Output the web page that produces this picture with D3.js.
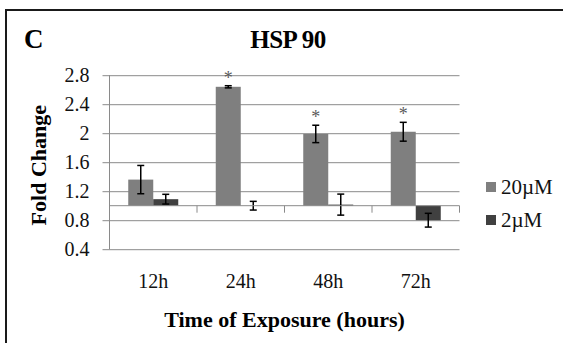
<!DOCTYPE html>
<html>
<head>
<meta charset="utf-8">
<script src="https://cdn.jsdelivr.net/npm/d3@7"></script>
<style>
  body { margin: 0; background: #fff; }
  svg text { font-family: "Liberation Serif", "Times New Roman", serif; }
</style>
</head>
<body>
<svg width="563" height="343"></svg>
<script>
// values
const categories = ["12h", "24h", "48h", "72h"]
const series = ["20µM", "2µM"]
const mean20 = [1.36, 2.64, 1.99, 2.02]
const err20 = [0.195, 0.015, 0.12, 0.13]
const mean2 = [1.09, 1.0, 1.015, 0.80]
const err2 = [0.067, 0.06, 0.145, 0.095]
const starred = [false, true, true, true]
const yTicks = [0.4, 0.8, 1.2, 1.6, 2, 2.4, 2.8]
const colors = ["#7f7f7f", "#404040"]

const svg = d3.select('svg')
const plotL = 109.5, plotR = 459.5, plotT = 75.2, plotB = 249.2

const x0 = d3.scaleBand().domain(categories).range([plotL, plotR])
const x1 = d3.scaleBand().domain(series).range([0, x0.bandwidth()]).paddingOuter(0.75)
const y = d3.scaleLinear().domain([0.4, 2.8]).range([plotB, plotT])
const base = y(1)

// frame (only top and left edges show)
svg.append('path')
    .attr('d', `M6,343 V10 H563`)
    .attr('fill', 'none')
    .attr('stroke', '#1a1a1a')
    .attr('stroke-width', 2)

// gridlines + y axis
const yAxis = d3.axisLeft(y)
    .tickValues(yTicks)
    .tickSize(-(plotR - plotL))
    .tickPadding(0)
    .tickFormat(d3.format('~g'))
const gy = svg.append('g')
    .attr('transform', `translate(${plotL},0)`)
    .call(yAxis)
gy.select('.domain').remove()
gy.selectAll('line')
    .attr('x1', -7)
    .attr('stroke', '#8a8a8a')
gy.selectAll('text')
    .attr('x', -20)
    .attr('dy', '0.32em')
    .attr('font-size', 20)
    .attr('fill', '#111')
svg.append('line')
    .attr('x1', plotL).attr('x2', plotL)
    .attr('y1', plotT).attr('y2', plotB)
    .attr('stroke', '#8a8a8a')

const rows = categories.map((c, i) => ({
    cat: c,
    vals: [
        {s: series[0], v: mean20[i], e: err20[i], star: starred[i]},
        {s: series[1], v: mean2[i], e: err2[i], star: false}
    ]
}))

const groups = svg.append('g').selectAll('g')
    .data(rows).enter()
    .append('g')
    .attr('transform', d => `translate(${x0(d.cat)},0)`)

groups.selectAll('rect')
    .data(d => d.vals).enter()
    .append('rect')
    .attr('x', d => x1(d.s))
    .attr('width', x1.bandwidth())
    .attr('y', d => Math.min(y(d.v), base))
    .attr('height', d => Math.abs(y(d.v) - base))
    .attr('fill', (d, i) => colors[i])

// error bars
const eb = groups.selectAll('.err')
    .data(d => d.vals).enter()
    .append('g')
    .classed('err', true)
    .attr('transform', d => `translate(${x1(d.s) + x1.bandwidth() / 2},0)`)
eb.append('line')
    .attr('y1', d => y(d.v + d.e)).attr('y2', d => y(d.v - d.e))
eb.append('line')
    .attr('x1', -3.5).attr('x2', 3.5)
    .attr('y1', d => y(d.v + d.e)).attr('y2', d => y(d.v + d.e))
eb.append('line')
    .attr('x1', -3.5).attr('x2', 3.5)
    .attr('y1', d => y(d.v - d.e)).attr('y2', d => y(d.v - d.e))
eb.selectAll('line')
    .attr('stroke', '#000')
    .attr('stroke-width', 1.5)

// significance stars
groups.selectAll('.star')
    .data(d => d.vals.filter(v => v.star)).enter()
    .append('text')
    .classed('star', true)
    .attr('x', d => x1(d.s) + x1.bandwidth() / 2)
    .attr('y', d => y(d.v + d.e) - 2)
    .attr('text-anchor', 'middle')
    .attr('font-size', 18)
    .attr('fill', '#5a5a5a')
    .text('*')

// horizontal axis crossing at 1.0
const gx = svg.append('g')
    .attr('transform', `translate(0,${base})`)
gx.append('line')
    .attr('x1', plotL).attr('x2', plotR)
    .attr('stroke', '#8a8a8a')
gx.selectAll('.bnd')
    .data(categories.map(c => x0(c)).concat([plotR])).enter()
    .append('line')
    .classed('bnd', true)
    .attr('x1', d => d).attr('x2', d => d)
    .attr('y1', 0).attr('y2', 7)
    .attr('stroke', '#8a8a8a')

// category labels
svg.append('g').selectAll('text')
    .data(categories).enter()
    .append('text')
    .attr('x', d => x0(d) + x0.bandwidth() / 2)
    .attr('y', 288)
    .attr('text-anchor', 'middle')
    .attr('font-size', 20)
    .attr('fill', '#111')
    .text(d => d)

// titles
svg.append('text')
    .attr('x', 24).attr('y', 47.5)
    .attr('font-size', 27).attr('font-weight', 'bold')
    .text('C')
svg.append('text')
    .attr('x', 288).attr('y', 47.5)
    .attr('text-anchor', 'middle')
    .attr('font-size', 25).attr('font-weight', 'bold')
    .attr('letter-spacing', -0.5)
    .text('HSP 90')
svg.append('text')
    .attr('transform', `translate(46,${(plotT + plotB) / 2 + 3}) rotate(-90)`)
    .attr('text-anchor', 'middle')
    .attr('font-size', 22).attr('font-weight', 'bold')
    .text('Fold Change')
svg.append('text')
    .attr('x', (plotL + plotR) / 2).attr('y', 327)
    .attr('text-anchor', 'middle')
    .attr('font-size', 22).attr('font-weight', 'bold')
    .text('Time of Exposure (hours)')

// legend
const lg = svg.append('g').selectAll('g')
    .data(series).enter()
    .append('g')
    .attr('transform', (d, i) => `translate(486,${182 + i * 33})`)
lg.append('rect')
    .attr('width', 10).attr('height', 10)
    .attr('fill', (d, i) => colors[i])
lg.append('text')
    .attr('x', 15).attr('y', 12)
    .attr('font-size', 21)
    .attr('fill', '#111')
    .text(d => d)
</script>
</body>
</html>
